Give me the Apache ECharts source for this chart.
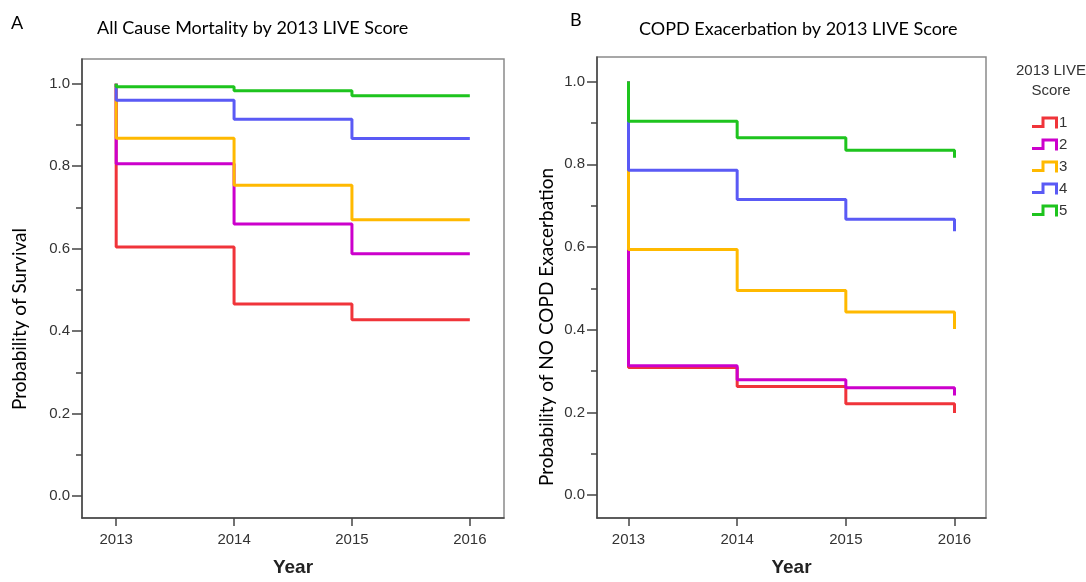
<!DOCTYPE html>
<html>
<head>
<meta charset="utf-8">
<script src="https://cdn.jsdelivr.net/npm/echarts@6/dist/echarts.min.js"></script>
<style>
html,body{margin:0;padding:0;background:#fff;}
#c{width:1086px;height:582px;}
</style>
</head>
<body>
<div id="c"></div>
<script>
// ---- data ----
var years = [2013, 2014, 2015, 2016];
var START = 1.0;
var groups = ['1', '2', '3', '4', '5'];
// All cause mortality: survival after each step (2013, 2014, 2015, 2016)
var mort1 = [0.604, 0.466, 0.428, 0.428];
var mort2 = [0.806, 0.660, 0.588, 0.588];
var mort3 = [0.868, 0.754, 0.670, 0.670];
var mort4 = [0.960, 0.914, 0.867, 0.867];
var mort5 = [0.993, 0.983, 0.971, 0.971];
// COPD exacerbation: probability of no exacerbation
var copd1 = [0.309, 0.263, 0.221, 0.199];
var copd2 = [0.313, 0.279, 0.260, 0.241];
var copd3 = [0.594, 0.495, 0.443, 0.402];
var copd4 = [0.786, 0.715, 0.667, 0.638];
var copd5 = [0.904, 0.864, 0.834, 0.816];
var yTicks = [0.0, 0.2, 0.4, 0.6, 0.8, 1.0];
var yMinorTicks = [0.1, 0.3, 0.5, 0.7, 0.9];

var colors = ['#f0343a', '#cc00cc', '#ffb900', '#5a5af5', '#1ec41e'];
var mortSets = [mort1, mort2, mort3, mort4, mort5];
var copdSets = [copd1, copd2, copd3, copd4, copd5];

function kmData(vals) {
  var d = [[years[0], START]];
  years.forEach(function (y, i) { d.push([y, vals[i]]); });
  return d;
}

var narrow = '"Liberation Sans", Arial, sans-serif';
var calib = 'Lato, "Open Sans", sans-serif';
var icon = 'path://M0,8.5 L9.5,8.5 L9.5,0 L26,0 L26,12 L23,12 L23,3 L12.5,3 L12.5,11.5 L0,11.5 Z';

function xAxisFor(gi) {
  return {
    type: 'value', gridIndex: gi, min: 2012.71, max: 2016.29, position: 'bottom',
    axisLine: { show: true, onZero: false, lineStyle: { color: '#444', width: 1.5 } },
    axisTick: { show: true, length: 8, customValues: years, lineStyle: { color: '#444', width: 1.5 } },
    axisLabel: { customValues: years, margin: 14, color: '#333', fontSize: 15, fontFamily: narrow,
      formatter: function (v) { return String(v); } },
    splitLine: { show: false },
    name: 'Year', nameLocation: 'middle', nameGap: 40,
    nameTextStyle: { fontSize: 19, fontWeight: 'bold', color: '#222', fontFamily: narrow }
  };
}
function yAxisFor(gi, mn, mx) {
  return {
    type: 'value', gridIndex: gi, min: mn, max: mx, position: 'left',
    axisLine: { show: true, onZero: false, lineStyle: { color: '#444', width: 1.5 } },
    axisTick: { show: true, length: 10, customValues: yTicks, lineStyle: { color: '#444', width: 1.5 } },
    axisLabel: { customValues: yTicks, margin: 12, color: '#333', fontSize: 15, fontFamily: narrow,
      formatter: function (v) { return v.toFixed(1); } },
    splitLine: { show: false }
  };
}
function yMinorFor(gi, mn, mx) {
  return {
    type: 'value', gridIndex: gi, min: mn, max: mx, position: 'left',
    axisLine: { show: false, onZero: false },
    axisTick: { show: true, length: 6, customValues: yMinorTicks, lineStyle: { color: '#444', width: 1.5 } },
    axisLabel: { show: false },
    splitLine: { show: false }
  };
}

var series = [];
groups.forEach(function (g, i) {
  series.push({ name: g, type: 'line', xAxisIndex: 0, yAxisIndex: 0, step: 'end', symbol: 'none',
    data: kmData(mortSets[i]), lineStyle: { width: 3, color: colors[i] }, itemStyle: { color: colors[i] }, z: 2 + i });
});
groups.forEach(function (g, i) {
  series.push({ name: g, type: 'line', xAxisIndex: 1, yAxisIndex: 2, step: 'end', symbol: 'none',
    data: kmData(copdSets[i]), lineStyle: { width: 3, color: colors[i] }, itemStyle: { color: colors[i] }, z: 2 + i });
});

var chart = echarts.init(document.getElementById('c'), null, { renderer: 'canvas' });
chart.setOption({
  backgroundColor: '#fff',
  animation: false,
  title: [
    { text: 'A', left: 6, top: 9, textStyle: { fontFamily: calib, fontSize: 18, fontWeight: 'normal', color: '#000' } },
    { text: 'All Cause Mortality by 2013 LIVE Score', left: 92, top: 14, textStyle: { fontFamily: calib, fontSize: 18, fontWeight: 'normal', color: '#000' } },
    { text: 'B', left: 565, top: 6, textStyle: { fontFamily: calib, fontSize: 18, fontWeight: 'normal', color: '#000' } },
    { text: 'COPD Exacerbation by 2013 LIVE Score', left: 634, top: 15, textStyle: { fontFamily: calib, fontSize: 18, fontWeight: 'normal', color: '#000' } },
    { text: '2013 LIVE\nScore', left: 1046, top: 56, textAlign: 'center',
      textStyle: { fontFamily: narrow, fontSize: 15, fontWeight: 'normal', color: '#333', lineHeight: 20 } }
  ],
  legend: {
    orient: 'vertical', left: 1027, top: 110, itemWidth: 26, itemHeight: 12, itemGap: 7,
    data: groups.map(function (g) { return { name: g, icon: icon }; }),
    textStyle: { fontFamily: narrow, fontSize: 15, color: '#333', padding: [0, 0, 0, -4] },
    selectedMode: false
  },
  grid: [
    { left: 82, top: 59, width: 422, height: 464, show: true, borderColor: '#8a8a8a', borderWidth: 1.5, backgroundColor: 'transparent' },
    { left: 597, top: 57, width: 389, height: 468, show: true, borderColor: '#8a8a8a', borderWidth: 1.5, backgroundColor: 'transparent' }
  ],
  xAxis: [xAxisFor(0), xAxisFor(1)],
  yAxis: [
    yAxisFor(0, -0.053, 1.06), yMinorFor(0, -0.053, 1.06),
    yAxisFor(1, -0.055, 1.0595), yMinorFor(1, -0.055, 1.0595)
  ],
  graphic: [
    { type: 'text', x: 20, y: 319, rotation: Math.PI / 2,
      style: { text: 'Probability of Survival', font: '19px ' + calib, fill: '#000', align: 'center', verticalAlign: 'middle' } },
    { type: 'text', x: 547, y: 327, rotation: Math.PI / 2,
      style: { text: 'Probability of NO COPD Exacerbation', font: '19px ' + calib, fill: '#000', align: 'center', verticalAlign: 'middle' } }
  ],
  series: series
});
</script>
</body>
</html>
